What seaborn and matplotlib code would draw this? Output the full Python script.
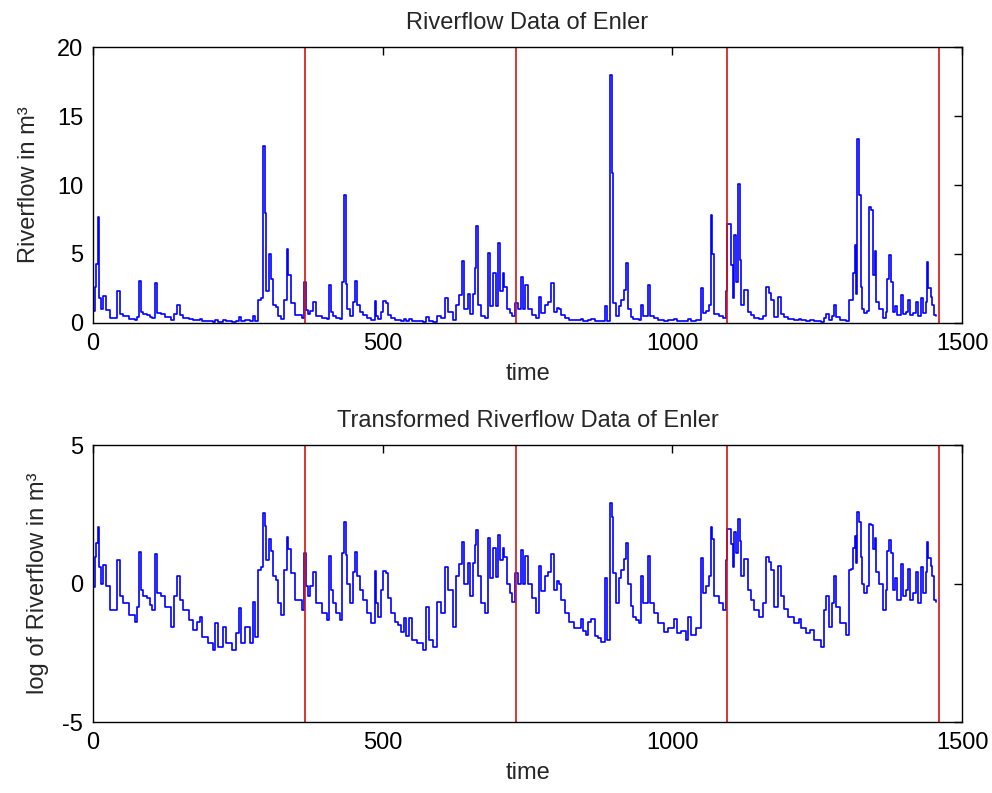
import numpy as np
import pandas as pd
import matplotlib
matplotlib.use("Agg")
import matplotlib.pyplot as plt
import seaborn as sns

# ---- data (day index, riverflow) ----
days = [
    0, 3, 5, 8, 10, 13, 18, 22, 29, 38, 42, 46, 52, 62, 72, 76, 80, 83, 87, 93,
    98, 102, 107, 111, 118, 124, 134, 139, 145, 150, 156, 165, 173, 180, 184, 188,
    199, 207, 210, 215, 225, 230, 239, 246, 252, 256, 262, 271, 276, 279, 285, 290,
    294, 296, 298, 304, 307, 311, 315, 320, 325, 330, 334, 337, 341, 348, 360, 364,
    368,
    371, 375, 380, 385, 395, 403, 407, 410, 414, 420, 426, 430, 434, 436, 439, 443,
    448, 452, 456, 460, 466, 473, 480, 486, 489, 492, 497, 500, 505, 509, 515, 521,
    527, 532, 537, 540, 546, 551, 560, 569, 575, 580, 587, 593, 600, 607, 612, 621,
    627, 632, 636, 641, 647, 651, 656, 659, 661, 665, 670, 676, 681, 685, 690, 695,
    699, 703, 707, 710, 715, 720, 724, 728, 733, 738, 742, 745,
    751, 758, 765, 769, 773, 780, 786, 790, 795, 800, 805, 808, 815, 822, 831, 842,
    845, 851, 855, 860, 866, 872, 877, 883, 887, 892, 895, 898, 903, 908, 911, 916,
    920, 923, 928, 932, 938, 943, 945, 950, 955, 958, 962, 968, 975, 986, 993, 1003,
    1008, 1015, 1024, 1027, 1032, 1040, 1047, 1049, 1053, 1058, 1063, 1066, 1068,
    1071, 1080, 1087, 1092, 1094, 1099, 1101, 1104, 1107, 1110, 1113, 1116, 1119,
    1124,
    1130, 1136, 1141, 1150, 1156, 1162, 1166, 1170, 1176, 1182, 1187, 1193, 1199,
    1210, 1219, 1222, 1230, 1238, 1245, 1256, 1262, 1265, 1270, 1276, 1279, 1282,
    1290, 1299, 1305, 1309, 1312, 1315, 1317, 1319, 1322, 1325, 1328, 1331, 1336,
    1340, 1343, 1346, 1349, 1352, 1356, 1363, 1368, 1371, 1374, 1377, 1380, 1384,
    1388, 1394, 1398, 1403, 1406, 1410, 1415, 1420, 1424, 1429, 1433, 1437, 1439,
    1442, 1446, 1449, 1452, 1455,
]
flow = [
    0.89, 2.64, 4.3, 7.7, 1.84, 1.0, 1.95, 0.93, 0.38, 0.38, 2.3, 0.63, 0.49, 0.32,
    0.25, 0.43, 3.07, 0.8, 0.63, 0.6, 0.46, 0.38, 2.9, 0.7, 0.63, 0.43, 0.21, 0.63,
    1.3, 0.55, 0.38, 0.27, 0.186, 0.25, 0.30, 0.147, 0.115, 0.091, 0.237, 0.102,
    0.21, 0.115, 0.091, 0.165, 0.41, 0.115, 0.21, 0.115, 0.52, 0.147, 1.65, 1.84,
    12.8, 8.0, 2.34, 5.0, 3.2, 1.3, 1.15, 0.49, 0.32, 1.65, 5.36, 3.5, 1.46, 0.55,
    0.38, 3.0, 0.93,
    0.63, 0.9, 1.5, 0.49, 0.35, 0.267, 2.75, 0.8, 0.49, 0.35, 0.267, 2.97, 9.3,
    2.8, 1.0, 0.49, 1.5, 3.07, 1.3, 0.8, 0.55, 0.35, 0.237, 1.6, 0.5, 0.30, 0.8,
    1.6, 1.46, 0.6, 0.35, 0.25, 0.22, 0.176, 0.284, 0.15, 0.284, 0.13, 0.115,
    0.091, 0.43, 0.13, 0.102, 0.52, 0.34, 1.8, 0.79, 0.21, 1.3, 2.0, 4.5, 1.0, 2.1,
    0.63, 2.1, 4.0, 7.0, 1.3, 0.49, 0.34, 5.1, 1.2, 3.6, 1.25, 5.8, 2.34, 3.6,
    2.64, 1.0, 0.7, 0.52, 1.46, 1.0, 3.3, 1.0, 2.75,
    1.0, 0.6, 0.34, 1.85, 0.76, 1.3, 1.5, 2.9, 0.8, 1.1, 1.0, 0.55, 0.35, 0.25,
    0.198, 0.273, 0.18, 0.156, 0.25, 0.273, 0.15, 0.14, 0.122, 1.2, 0.13, 18.0,
    10.9, 1.45, 0.49, 1.2, 1.65, 2.4, 4.37, 1.0, 0.45, 0.30, 0.27, 0.237, 1.3,
    0.49, 0.5, 2.75, 0.49, 0.35, 0.237, 0.176, 0.2, 0.273, 0.165, 0.18, 0.13, 0.30,
    0.156, 0.2, 0.198, 2.5, 0.7, 0.9, 1.3, 7.8, 5.0, 0.63, 0.5, 0.383, 2.34, 7.2,
    7.2, 4.2, 1.8, 6.4, 3.0, 10.1, 4.6, 1.3, 2.4,
    0.79, 0.55, 0.383, 0.30, 0.49, 2.6, 2.2, 1.65, 0.43, 1.9, 0.63, 0.4, 0.30,
    0.24, 0.273, 0.2, 0.165, 0.186, 0.13, 0.102, 0.383, 0.63, 0.21, 0.5, 1.3, 0.43,
    0.237, 0.156, 1.65, 1.7, 3.6, 5.65, 2.08, 13.3, 9.3, 2.6, 1.0, 0.7, 0.9, 8.43,
    8.2, 3.5, 5.2, 1.5, 1.0, 0.383, 0.8, 3.2, 4.9, 2.97, 0.79, 1.2, 0.55, 2.0,
    0.63, 0.8, 1.7, 0.55, 0.7, 1.5, 0.49, 1.8, 0.7, 1.5, 4.4, 2.5, 1.9, 1.3, 0.55,
    0.52,
]
year_marks = [365, 730, 1095, 1460]
x_ticks = [0, 500, 1000, 1500]
top_yticks = [0, 5, 10, 15, 20]
bottom_yticks = [-5, 0, 5]

df = pd.DataFrame({"time": days, "flow": flow})
df["logflow"] = np.log(df["flow"])

sns.set_style("white")
plt.rcParams["font.family"] = ["Liberation Sans", "DejaVu Sans"]
plt.rcParams["font.size"] = 17
plt.rcParams["axes.unicode_minus"] = False

fig = plt.figure(figsize=(9.92, 7.93), dpi=100)
ax1 = fig.add_axes([0.0938, 0.5927, 0.8760, 0.3480])
ax2 = fig.add_axes([0.0938, 0.0895, 0.8760, 0.3493])

for ax, col, yt, ylim in [(ax1, "flow", top_yticks, (0, 20)),
                          (ax2, "logflow", bottom_yticks, (-5, 5))]:
    sns.lineplot(data=df, x="time", y=col, ax=ax, color="#0000ff",
                 linewidth=1.2, estimator=None, sort=True,
                 drawstyle="steps-post")
    for xm in year_marks:
        ax.axvline(xm, color="#d81010", linewidth=1.2)
    ax.set_xlim(0, 1500)
    ax.set_ylim(*ylim)
    ax.set_xticks(x_ticks)
    ax.set_yticks(yt)
    ax.tick_params(direction="in", top=True, right=True, length=6,
                   width=1, labelsize=17, colors="black", pad=7)
    for s in ax.spines.values():
        s.set_color("black")
        s.set_linewidth(1)
    ax.set_xlabel("time", fontsize=17, labelpad=6)

ax1.set_ylabel("Riverflow in m³", fontsize=17, labelpad=12)
ax2.set_ylabel("log of Riverflow in m³", fontsize=17, labelpad=10)
ax1.set_title("Riverflow Data of Enler", fontsize=17, pad=13)
ax2.set_title("Transformed Riverflow Data of Enler", fontsize=17, pad=13)

fig.savefig("out.png", dpi=100)
